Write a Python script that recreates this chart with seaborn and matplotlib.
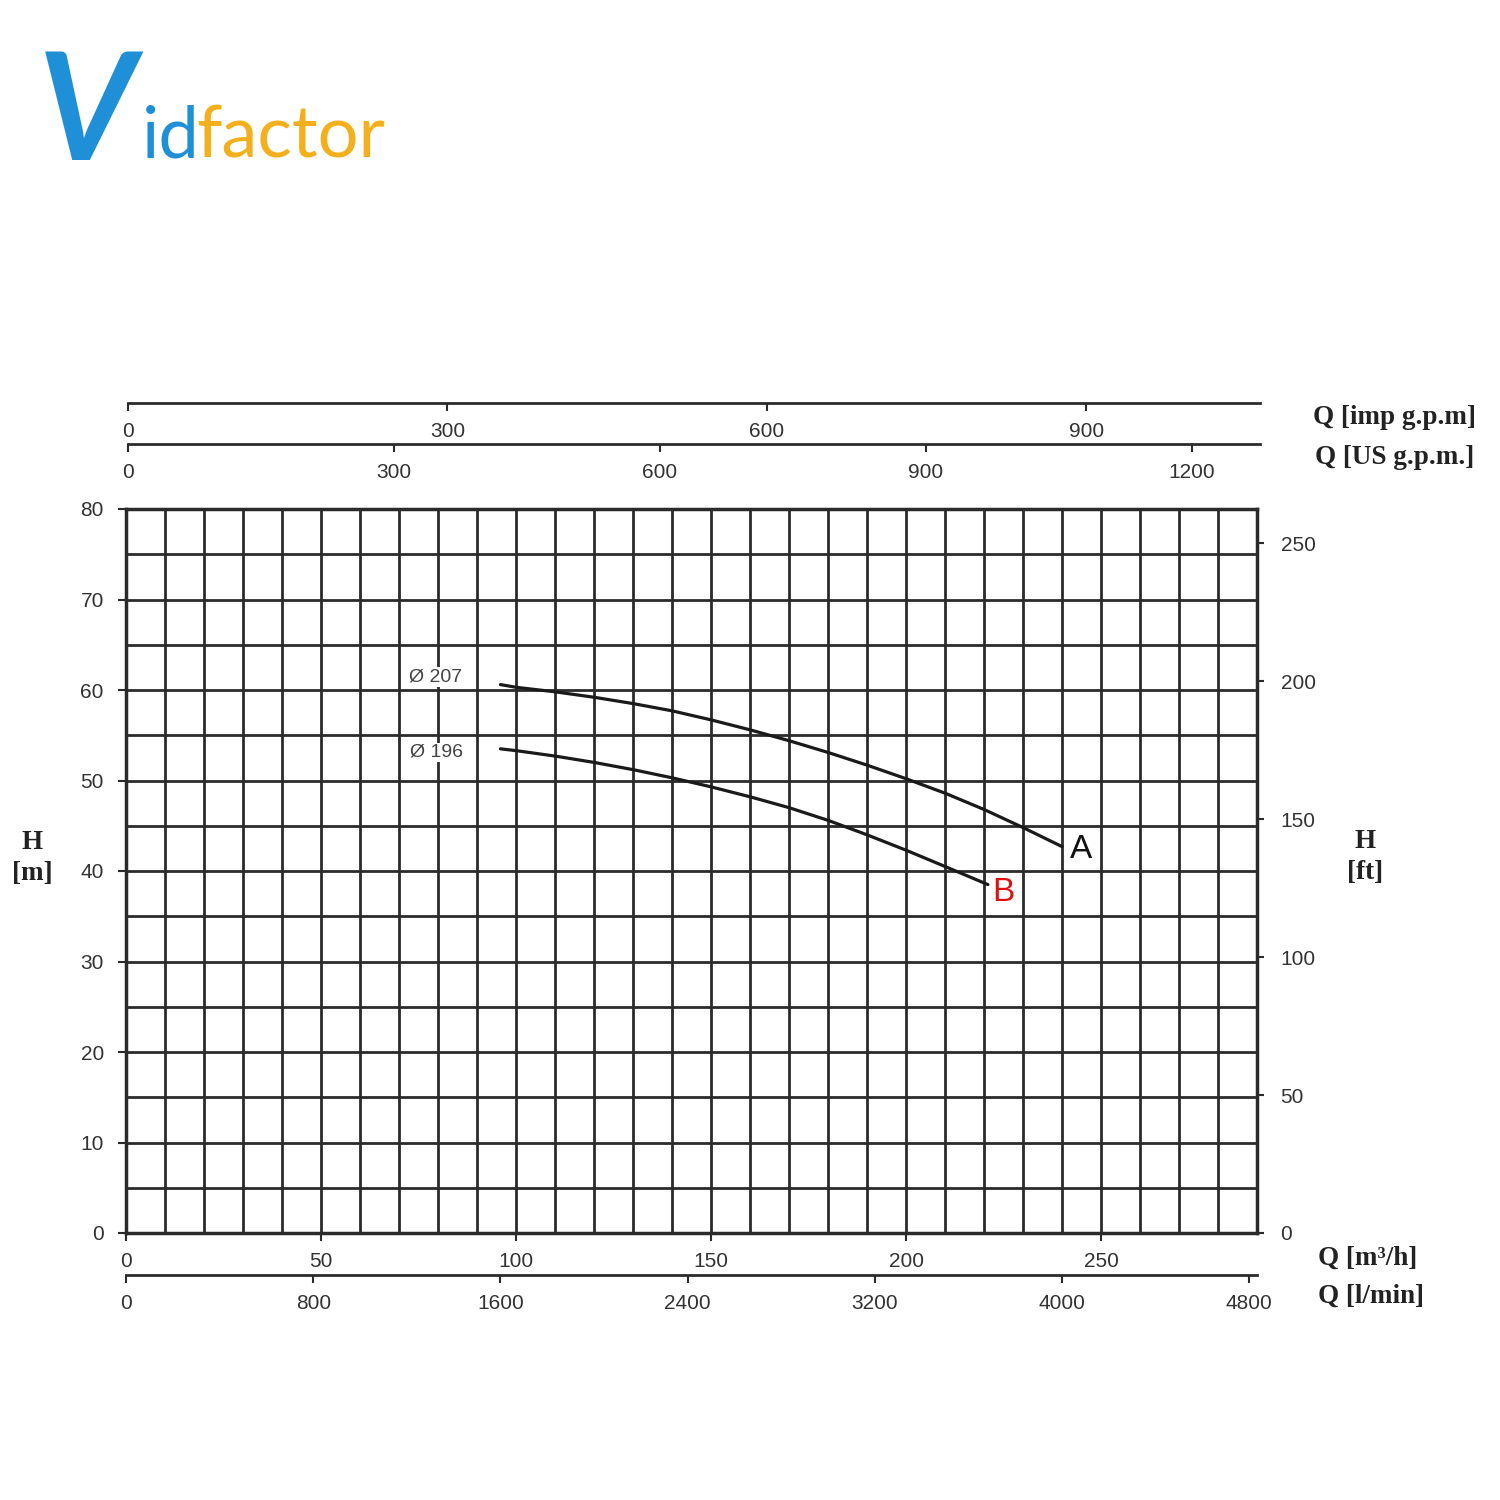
import numpy as np
import seaborn as sns
import matplotlib.pyplot as plt

# pump curves: flow Q [m3/h] vs head H [m]
q_207 = [96, 100, 110, 120, 130, 140, 150, 160, 170, 180, 190, 200, 210, 220, 230, 240]
h_207 = [60.6, 60.3, 59.8, 59.2, 58.5, 57.7, 56.7, 55.6, 54.4, 53.1, 51.7, 50.2, 48.6, 46.8, 44.8, 42.7]
q_196 = [96, 100, 110, 120, 130, 140, 150, 160, 170, 180, 190, 200, 210, 221]
h_196 = [53.5, 53.3, 52.7, 52.0, 51.2, 50.3, 49.3, 48.2, 47.0, 45.6, 44.0, 42.3, 40.5, 38.5]

# axis ticks
h_m_ticks = [0, 10, 20, 30, 40, 50, 60, 70, 80]
h_ft_ticks = [0, 50, 100, 150, 200, 250]
q_m3h_ticks = [0, 50, 100, 150, 200, 250]
q_lmin_ticks = [0, 800, 1600, 2400, 3200, 4000, 4800]
q_us_ticks = [0, 300, 600, 900, 1200]
q_imp_ticks = [0, 300, 600, 900]

Q_MAX = 290
H_MAX = 80
# unit conversions from m3/h and m
M_TO_FT = 3.2808
TO_LMIN = 16.667
TO_US = 4.4029
TO_IMP = 3.6661

sns.set_style("white")
plt.rcParams['font.family'] = ['Liberation Sans', 'DejaVu Sans']

GRID = '#2b2b2b'
TXT = '#333333'

fig = plt.figure(figsize=(15, 15), dpi=100)
fig.patch.set_facecolor('white')

# main chart
ax = fig.add_axes([126/1500, 1 - 1233/1500, 1131/1500, 724/1500])
ax.set_xlim(0, Q_MAX)
ax.set_ylim(0, H_MAX)
ax.set_xticks(q_m3h_ticks)
ax.set_yticks(h_m_ticks)
ax.set_xticks(np.arange(0, Q_MAX + 1, 10), minor=True)
ax.set_yticks(np.arange(0, H_MAX + 1, 5), minor=True)
ax.grid(which='both', color=GRID, lw=2)
ax.tick_params(which='minor', length=0)
ax.tick_params(which='major', length=6, width=1.5, color=GRID, labelsize=15,
               labelcolor=TXT, pad=10, direction='out', bottom=True, left=True)
ax.tick_params(axis='x', pad=8)
for s in ax.spines.values():
    s.set_color(GRID)
    s.set_linewidth(2.5)
ax.set_axisbelow(True)

sns.lineplot(x=q_207, y=h_207, ax=ax, color='#1a1a1a', lw=2.3, sort=False)
sns.lineplot(x=q_196, y=h_196, ax=ax, color='#1a1a1a', lw=2.3, sort=False)
ax.set_xlabel('')
ax.set_ylabel('')

ax.text(79.5, 61.4, 'Ø 207', ha='center', va='center', fontsize=14, color='#444444',
        bbox=dict(facecolor='white', edgecolor='none', pad=1))
ax.text(79.5, 53.1, 'Ø 196', ha='center', va='center', fontsize=14, color='#444444',
        bbox=dict(facecolor='white', edgecolor='none', pad=1))
ax.text(245, 42.4, 'A', ha='center', va='center', fontsize=24, color='#111111',
        bbox=dict(facecolor='white', edgecolor='none', pad=0))
ax.text(224.9, 37.6, 'B', ha='center', va='center', fontsize=24, color='#e01010',
        bbox=dict(facecolor='white', edgecolor='none', pad=0))

# head in feet on the right
ax2 = ax.twinx()
ax2.set_ylim(0, H_MAX * M_TO_FT)
ax2.set_yticks(h_ft_ticks)
ax2.tick_params(length=5, width=1.5, color=GRID, labelsize=15, labelcolor=TXT, pad=12, right=True)
for s in ax2.spines.values():
    s.set_visible(False)
ax2.grid(False)


def scale_axis(rect, xmax, ticks, pad=8):
    a = fig.add_axes(rect)
    a.set_facecolor('none')
    a.set_xlim(0, xmax)
    a.set_xticks(ticks)
    a.set_yticks([])
    for name, s in a.spines.items():
        s.set_visible(name == 'bottom')
    a.spines['bottom'].set_color(GRID)
    a.spines['bottom'].set_linewidth(2)
    a.tick_params(axis='x', length=6, width=1.5, color=GRID, labelsize=15,
                  labelcolor=TXT, pad=pad, bottom=True, direction='out')
    a.grid(False)
    return a


scale_axis([128/1500, 1 - 403/1500, 1132/1500, 1e-4], Q_MAX * TO_IMP, q_imp_ticks)
scale_axis([128/1500, 1 - 444/1500, 1132/1500, 1e-4], Q_MAX * TO_US, q_us_ticks)
scale_axis([126/1500, 1 - 1275/1500, 1131/1500, 1e-4], Q_MAX * TO_LMIN, q_lmin_ticks)

# unit labels
serif = dict(family=['Liberation Serif', 'DejaVu Serif'], weight='bold', fontsize=19.5, color='#222222')
fig.text(1313/1500, 1 - 417/1500, 'Q [imp g.p.m]', ha='left', va='center', **serif)
fig.text(1315/1500, 1 - 458/1500, 'Q [US g.p.m.]', ha='left', va='center', **serif)
fig.text(1318/1500, 1 - 1258/1500, 'Q [m³/h]', ha='left', va='center', **serif)
fig.text(1318/1500, 1 - 1296/1500, 'Q [l/min]', ha='left', va='center', **serif)
fig.text(32/1500, 1 - 858/1500, 'H\n[m]', ha='center', va='center', linespacing=1.3, **serif)
fig.text(1365/1500, 1 - 857/1500, 'H\n[ft]', ha='center', va='center', linespacing=1.3, **serif)

# logo
fig.text(38/1500, 1 - 160/1500, 'V', ha='left', va='baseline', fontsize=108,
         family='Lato', weight='bold', style='italic', color='#1f8fd8')
fig.text(142/1500, 1 - 157/1500, 'id', ha='left', va='baseline', fontsize=52,
         family='Lato', color='#1f8fd8')
fig.text(196/1500, 1 - 157/1500, 'factor', ha='left', va='baseline', fontsize=52,
         family='Lato', color='#f4b01c')

fig.savefig('out.png', dpi=100, facecolor='white')
